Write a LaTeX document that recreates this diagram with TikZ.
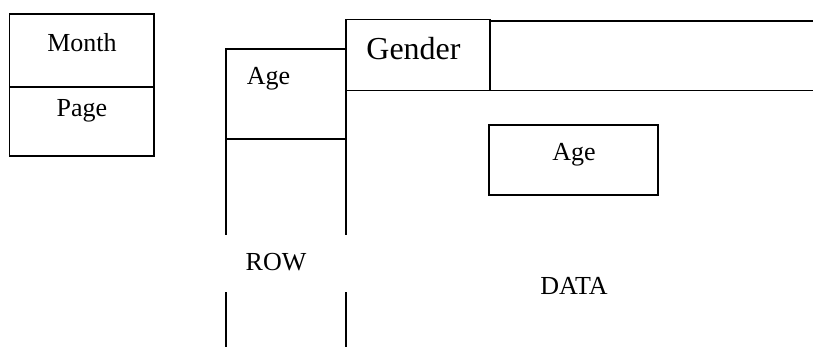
\documentclass[tikz,border=0pt]{standalone}
\usepackage{fontspec}
\setmainfont{Liberation Serif}
\begin{document}
\begin{tikzpicture}[x=1pt,y=-1pt,
  frame/.style={draw, line width=1.7pt, inner sep=0pt, outer sep=0pt, anchor=north west},
  lbl/.style={inner sep=0pt, outer sep=0pt, anchor=base, font=\fontsize{26}{30}\selectfont},
  edge/.style={line width=1.7pt}]
\useasboundingbox (0,0) rectangle (813,347);
\fill[white] (0,0) rectangle (813,347);
% boxes
\node[frame, minimum width=144.5pt, minimum height=73pt] (monthbox) at (9.5,14) {};
\node[frame, minimum width=144.5pt, minimum height=69pt] (pagebox) at (9.5,87) {};
\node[frame, minimum width=120pt, minimum height=90pt] (agecolbox) at (226,49) {};
\node[frame, minimum width=144pt, minimum height=71pt] (genderbox) at (346,19.5) {};
\node[frame, line width=2.4pt, minimum width=169pt, minimum height=70pt] (agebox) at (489,125) {};
% free ends
\coordinate (bandTL) at (490,21);
\coordinate (bandTR) at (814,21);
\coordinate (bandBR) at (814,90.5);
\coordinate (colBL) at (226,348);
\coordinate (colBR) at (346,348);
\draw[edge] (bandTL) -- (bandTR);
\draw[edge] (genderbox.south east) -- (bandBR);
\draw[edge] (agecolbox.south west) -- (colBL);
\draw[edge] (genderbox.south west) -- (colBR);
% white patch behind ROW
\node[fill=white, inner sep=0pt, outer sep=0pt,
      anchor=north west, minimum width=122pt, minimum height=57pt] (rowbox) at (225,235) {};
% labels
\node[lbl] (month) at (82,52) {Month};
\node[lbl] (page) at (82,117) {Page};
\node[lbl] (agerow) at (268.5,85) {Age};
\node[lbl, font=\fontsize{32}{36}\selectfont] (gender) at (413.5,60) {Gender};
\node[lbl] (agedata) at (574,161) {Age};
\node[lbl] (row) at (276,270.5) {ROW};
\node[lbl] (data) at (574,294) {DATA};
\end{tikzpicture}
\end{document}
